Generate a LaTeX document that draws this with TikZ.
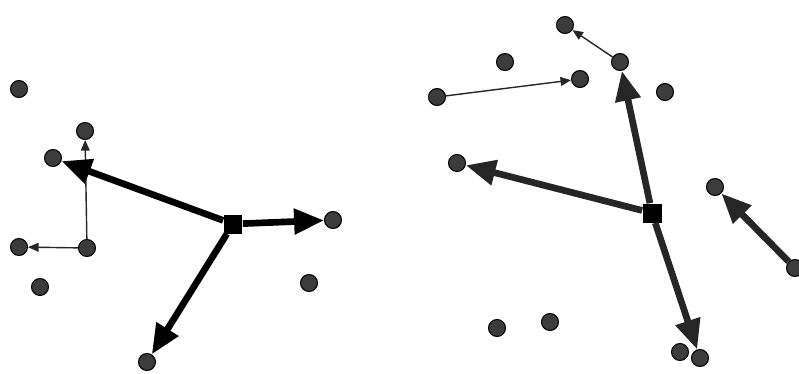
\documentclass[tikz,border=0pt]{standalone}
\usetikzlibrary{arrows.meta}
\definecolor{dotgray}{HTML}{3C3C3C}
\definecolor{linegray}{HTML}{262626}
\tikzset{
    pt/.style={circle,fill=dotgray,draw=black,line width=0.6pt,inner sep=0pt,minimum size=0.34cm},
    hub/.style={rectangle,fill=black,inner sep=0pt,minimum size=0.38cm},
    bigarr/.style={draw=linegray,line width=3.8pt,-{Triangle[length=17pt,width=14pt]}},
    smallarr/.style={draw=linegray,line width=0.8pt,-{Triangle[length=6pt,width=5pt]}}
}
\begin{document}
\begin{tikzpicture}[x=0.02cm,y=-0.02cm]
    \useasboundingbox (0,0) rectangle (799,373);

    % Left cluster
    \node[pt] (la) at (19,89) {};
    \node[pt] (lb) at (85,131) {};
    \node[pt] (lc) at (53,158) {};
    \node[pt] (ld) at (333,220) {};
    \node[pt] (le) at (87,248) {};
    \node[pt] (lf) at (19,247) {};
    \node[pt] (lg) at (40,287) {};
    \node[pt] (lh) at (309,283) {};
    \node[pt] (li) at (147,362) {};
    \node[hub] (lhub) at (233,224) {};

    \draw[smallarr] (le) -- (lb);
    \draw[smallarr] (le) -- (lf);
    \draw[bigarr,draw=black] (lhub) -- (lc);
    \draw[bigarr,draw=black] (lhub) -- (ld);
    \draw[bigarr,draw=black] (lhub) -- (li);

    % Right cluster
    \node[pt] (ra) at (565,25) {};
    \node[pt] (rb) at (505,62) {};
    \node[pt] (rc) at (580,79) {};
    \node[pt] (rd) at (620,62) {};
    \node[pt] (re) at (665,92) {};
    \node[pt] (rf) at (437,97) {};
    \node[pt] (rg) at (457,163) {};
    \node[pt] (rh) at (715,187) {};
    \node[pt] (ri) at (795,268) {};
    \node[pt] (rj) at (497,328) {};
    \node[pt] (rk) at (550,322) {};
    \node[pt] (rl) at (680,352) {};
    \node[pt] (rm) at (700,358) {};
    \node[hub] (rhub) at (652,213) {};

    \draw[smallarr] (rd) -- (ra);
    \draw[smallarr] (rf) -- (rc);
    \draw[bigarr] (rhub) -- (rd);
    \draw[bigarr] (rhub) -- (rg);
    \draw[bigarr] (rhub) -- (rm);
    \draw[bigarr] (ri) -- (rh);
\end{tikzpicture}
\end{document}
